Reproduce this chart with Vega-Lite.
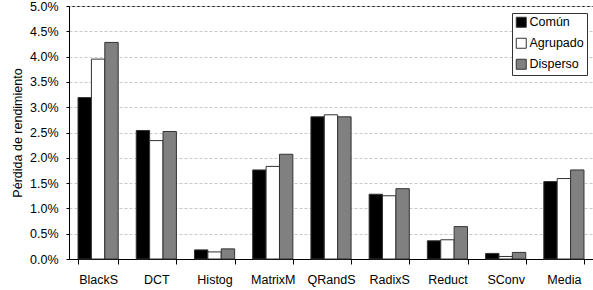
{
  "$schema": "https://vega.github.io/schema/vega-lite/v6.json",
  "autosize": {"type": "none"},
  "padding": {"left": 69, "top": 6, "right": 0, "bottom": 31},
  "width": 524,
  "height": 253,
  "background": "white",
  "config": {
    "font": "Liberation Sans",
    "view": {"stroke": "black", "strokeWidth": 1},
    "axis": {"labelFont": "Liberation Sans", "titleFont": "Liberation Sans", "labelColor": "black", "titleColor": "black", "labelFontSize": 12.5, "titleFontSize": 12.5, "titleFontWeight": "normal", "domainColor": "black", "tickColor": "black"}
  },
  "data": {
    "values": [
      {"cat": "BlackS", "serie": "Común", "value": 0.0319},
      {"cat": "BlackS", "serie": "Agrupado", "value": 0.0395},
      {"cat": "BlackS", "serie": "Disperso", "value": 0.0428},
      {"cat": "DCT", "serie": "Común", "value": 0.0254},
      {"cat": "DCT", "serie": "Agrupado", "value": 0.0234},
      {"cat": "DCT", "serie": "Disperso", "value": 0.0252},
      {"cat": "Histog", "serie": "Común", "value": 0.0018},
      {"cat": "Histog", "serie": "Agrupado", "value": 0.0014},
      {"cat": "Histog", "serie": "Disperso", "value": 0.0020},
      {"cat": "MatrixM", "serie": "Común", "value": 0.0176},
      {"cat": "MatrixM", "serie": "Agrupado", "value": 0.0183},
      {"cat": "MatrixM", "serie": "Disperso", "value": 0.0207},
      {"cat": "QRandS", "serie": "Común", "value": 0.0281},
      {"cat": "QRandS", "serie": "Agrupado", "value": 0.0285},
      {"cat": "QRandS", "serie": "Disperso", "value": 0.0281},
      {"cat": "RadixS", "serie": "Común", "value": 0.0128},
      {"cat": "RadixS", "serie": "Agrupado", "value": 0.0125},
      {"cat": "RadixS", "serie": "Disperso", "value": 0.0139},
      {"cat": "Reduct", "serie": "Común", "value": 0.0036},
      {"cat": "Reduct", "serie": "Agrupado", "value": 0.0038},
      {"cat": "Reduct", "serie": "Disperso", "value": 0.0064},
      {"cat": "SConv", "serie": "Común", "value": 0.0011},
      {"cat": "SConv", "serie": "Agrupado", "value": 0.0005},
      {"cat": "SConv", "serie": "Disperso", "value": 0.0013},
      {"cat": "Media", "serie": "Común", "value": 0.0153},
      {"cat": "Media", "serie": "Agrupado", "value": 0.0159},
      {"cat": "Media", "serie": "Disperso", "value": 0.0176}
    ]
  },
  "mark": {"type": "bar", "stroke": "#333333", "strokeWidth": 1},
  "encoding": {
    "x": {
      "field": "cat", "type": "nominal",
      "sort": ["BlackS", "DCT", "Histog", "MatrixM", "QRandS", "RadixS", "Reduct", "SConv", "Media"],
      "scale": {"paddingInner": 0.31, "paddingOuter": 0.155},
      "axis": {"title": null, "labelAngle": 0, "tickBand": "extent", "tickSize": 5, "labelPadding": 9}
    },
    "xOffset": {
      "field": "serie", "type": "nominal",
      "sort": ["Común", "Agrupado", "Disperso"],
      "scale": {"paddingInner": 0, "paddingOuter": 0}
    },
    "y": {
      "field": "value", "type": "quantitative",
      "scale": {"domain": [0, 0.05], "nice": false},
      "axis": {
        "title": "Pérdida de rendimiento",
        "format": ".1%",
        "values": [0, 0.005, 0.01, 0.015, 0.02, 0.025, 0.03, 0.035, 0.04, 0.045, 0.05],
        "grid": true, "gridColor": "#c8c8c8", "gridDash": [3, 2],
        "tickSize": 3, "labelPadding": 8, "titlePadding": 5
      }
    },
    "color": {
      "field": "serie", "type": "nominal",
      "sort": ["Común", "Agrupado", "Disperso"],
      "scale": {"domain": ["Común", "Agrupado", "Disperso"], "range": ["#000000", "#ffffff", "#808080"]},
      "legend": {
        "title": null, "orient": "none", "legendX": 443, "legendY": 7,
        "strokeColor": "#333333", "fillColor": "white", "padding": 3,
        "symbolType": "square", "symbolSize": 100, "symbolStrokeColor": "#333333", "symbolStrokeWidth": 1,
        "labelFont": "Liberation Sans", "labelFontSize": 12.5, "labelColor": "black", "labelOffset": 2, "rowPadding": 6
      }
    }
  }
}
